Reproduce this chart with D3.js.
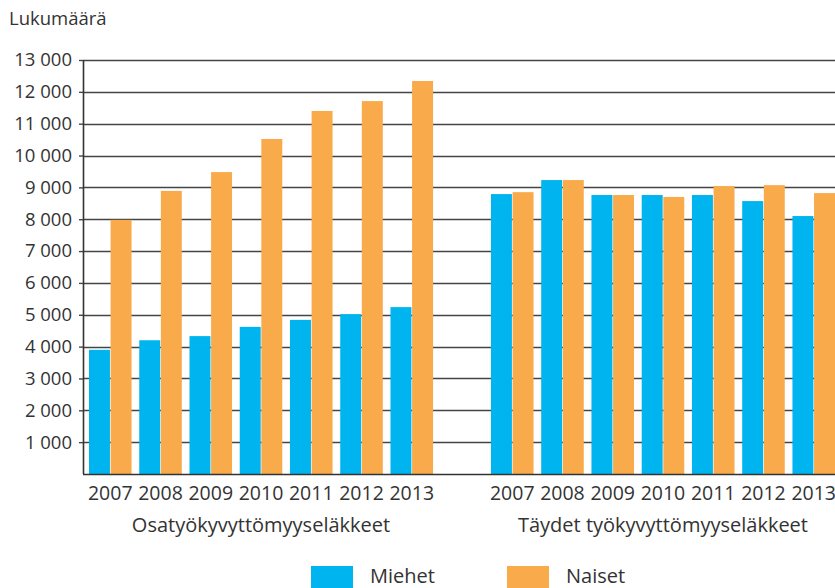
<!DOCTYPE html>
<html>
<head>
<meta charset="utf-8">
<script src="https://cdn.jsdelivr.net/npm/d3@7"></script>
<style>
  html, body { margin: 0; padding: 0; background: #fff; }
  svg { display: block; font-family: "Open Sans", sans-serif; }
</style>
</head>
<body>
<svg id="chart" width="835" height="588"></svg>
<script>
const categories = ["Osatyökyvyttömyyseläkkeet", "Täydet työkyvyttömyyseläkkeet"];
const years = ["2007", "2008", "2009", "2010", "2011", "2012", "2013"];
const seriesNames = ["Miehet", "Naiset"];
const seriesColors = ["#00B5EF", "#F9AA4B"];
const osaMiehet = [3900, 4200, 4330, 4620, 4840, 5020, 5240];
const osaNaiset = [7980, 8890, 9480, 10520, 11400, 11710, 12340];
const taysMiehet = [8790, 9230, 8760, 8760, 8760, 8570, 8100];
const taysNaiset = [8850, 9230, 8760, 8700, 9040, 9070, 8820];
const yTicks = [1000, 2000, 3000, 4000, 5000, 6000, 7000, 8000, 9000, 10000, 11000, 12000, 13000];
const yTitle = "Lukumäärä";

const groups = [
  { cat: categories[0], values: [osaMiehet, osaNaiset] },
  { cat: categories[1], values: [taysMiehet, taysNaiset] }
];

// slots: group 1 years, one empty slot, group 2 years
const slots = [];
groups.forEach((g, gi) => {
  if (gi > 0) slots.push("gap");
  years.forEach(y => slots.push(g.cat + "|" + y));
});

const svg = d3.select("#chart");
const axisX = 83, baseY = 474, topY = 60;

const x = d3.scaleBand().domain(slots).range([89, 835]).paddingInner(0.153).paddingOuter(0);
const xs = d3.scaleBand().domain(seriesNames).range([0, x.bandwidth()]).paddingInner(0.03);
const y = d3.scaleLinear().domain([0, 13000]).range([baseY, topY]);

const locale = d3.formatLocale({ decimal: ",", thousands: "\u00a0", grouping: [3], currency: ["", "€"] });
const fmt = locale.format(",d");

// gridlines
svg.append("g").selectAll("line").data(yTicks).join("line")
  .attr("x1", axisX).attr("x2", 835)
  .attr("y1", d => Math.round(y(d)) + 0.5).attr("y2", d => Math.round(y(d)) + 0.5)
  .attr("stroke", "#454545").attr("stroke-width", 1.4);

// bars
const barData = [];
groups.forEach(g => {
  years.forEach((yr, i) => {
    seriesNames.forEach((s, si) => {
      barData.push({ slot: g.cat + "|" + yr, s, si, v: g.values[si][i] });
    });
  });
});
svg.append("g").selectAll("rect").data(barData).join("rect")
  .attr("x", d => x(d.slot) + xs(d.s))
  .attr("width", xs.bandwidth())
  .attr("y", d => y(d.v))
  .attr("height", d => baseY - y(d.v))
  .attr("fill", d => seriesColors[d.si]);

// y axis
const yAxis = d3.axisLeft(y).tickValues(yTicks).tickFormat(fmt).tickSize(4).tickPadding(7);
const gy = svg.append("g").attr("transform", `translate(${axisX},0)`).call(yAxis);
gy.select(".domain").attr("stroke", "#333").attr("stroke-width", 1.6)
  .attr("d", `M0.5,${topY}V${baseY}`);
gy.selectAll(".tick line").attr("stroke", "#454545").attr("stroke-width", 1.4);
gy.selectAll(".tick text").attr("fill", "#333").style("font-size", "18.5px").style("font-family", "'Open Sans', sans-serif");

// x axis baseline
svg.append("line").attr("x1", axisX).attr("x2", 835).attr("y1", baseY + 0.5).attr("y2", baseY + 0.5)
  .attr("stroke", "#333").attr("stroke-width", 1.6);

// x tick labels
const labelData = [];
groups.forEach(g => years.forEach(yr => labelData.push({ slot: g.cat + "|" + yr, yr })));
svg.append("g").selectAll("text").data(labelData).join("text")
  .attr("x", d => x(d.slot) + x.bandwidth() / 2)
  .attr("y", 500)
  .attr("text-anchor", "middle")
  .attr("fill", "#333")
  .style("font-size", "19.5px")
  .text(d => d.yr);

// category labels
svg.append("g").selectAll("text").data(groups).join("text")
  .attr("x", d => {
    const a = x(d.cat + "|" + years[0]);
    const b = x(d.cat + "|" + years[years.length - 1]) + x.bandwidth();
    return (a + b) / 2;
  })
  .attr("y", 532)
  .attr("text-anchor", "middle")
  .attr("fill", "#333")
  .style("font-size", "20px")
  .text(d => d.cat);

// y title
svg.append("text").attr("x", 9).attr("y", 25).attr("fill", "#333")
  .style("font-size", "18.5px").text(yTitle);

// legend
const legendX = [311, 507];
const lg = svg.append("g").selectAll("g").data(seriesNames).join("g")
  .attr("transform", (d, i) => `translate(${legendX[i]},566)`);
lg.append("rect").attr("width", 42).attr("height", 24).attr("fill", (d, i) => seriesColors[i]);
lg.append("text").attr("x", 59).attr("y", 17).attr("fill", "#333")
  .style("font-size", "20px").text(d => d);
</script>
</body>
</html>
